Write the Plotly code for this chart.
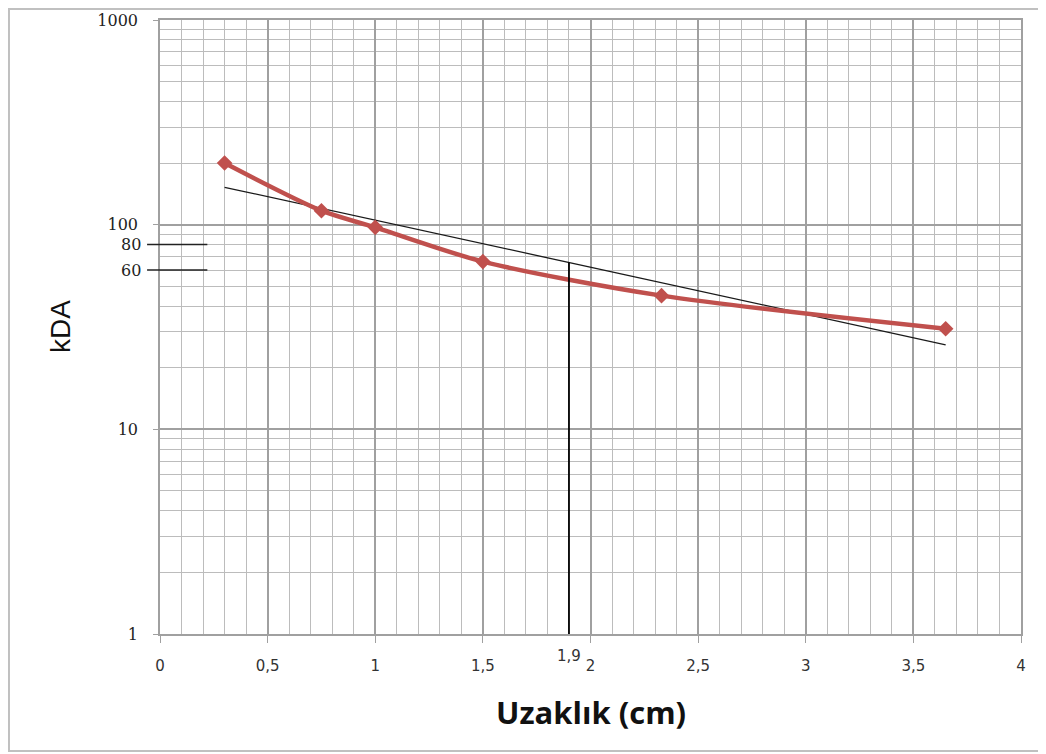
import numpy as np
import plotly.graph_objects as go

# Data
distance_cm = [0.3, 0.75, 1.0, 1.5, 2.33, 3.65]
kda = [200, 117, 97, 66, 45, 31]
x_tick_vals = [0, 0.5, 1, 1.5, 2, 2.5, 3, 3.5, 4]
x_tick_text = ["0", "0,5", "1", "1,5", "2", "2,5", "3", "3,5", "4"]
y_tick_vals = [1, 10, 100, 1000]
y_tick_text = ["1", "10", "100", "1000"]
marker_levels = [80, 60]
marker_labels = ["80", "60"]
read_x = 1.9
read_label = "1,9"

# Exponential trendline (Excel style) fitted on the data
coef = np.polyfit(distance_cm, np.log10(kda), 1)
trend_x = [min(distance_cm), max(distance_cm)]
trend_y = [10 ** np.polyval(coef, v) for v in trend_x]
read_y = 10 ** np.polyval(coef, read_x)

fig = go.Figure()
fig.add_trace(go.Scatter(x=trend_x, y=trend_y, mode="lines",
                         line=dict(color="#1a1a1a", width=1.3), showlegend=False))
fig.add_trace(go.Scatter(x=distance_cm, y=kda, mode="lines+markers",
                         line=dict(color="#c0504d", width=4.5, shape="spline", smoothing=0.8),
                         marker=dict(symbol="diamond", size=12, color="#c0504d"),
                         showlegend=False))
fig.add_trace(go.Scatter(x=[read_x, read_x], y=[1, read_y], mode="lines",
                         line=dict(color="black", width=1.8), showlegend=False))

minor_y = [m * 10 ** d for d in range(0, 3) for m in range(2, 10)]

fig.update_xaxes(range=[0, 4], tickvals=x_tick_vals, ticktext=x_tick_text,
                 showgrid=True, gridcolor="#a0a0a0", gridwidth=1.5,
                 minor=dict(dtick=0.1, tick0=0, showgrid=True, gridcolor="#bcbcbc", gridwidth=1.3),
                 ticks="outside", ticklen=7, tickcolor="#a0a0a0",
                 showline=True, linecolor="#a0a0a0", linewidth=1.5, mirror=True,
                 zeroline=False, automargin=False,
                 tickfont=dict(family="DejaVu Sans", size=15, color="#333333"),
                 ticklabelstandoff=10)
fig.update_yaxes(type="log", range=[0, 3], tickvals=y_tick_vals, ticktext=y_tick_text,
                 showgrid=True, gridcolor="#a0a0a0", gridwidth=1.5,
                 minor=dict(tickvals=minor_y, showgrid=True, gridcolor="#bcbcbc", gridwidth=1.3),
                 ticks="outside", ticklen=5, tickcolor="#a0a0a0",
                 showline=True, linecolor="#a0a0a0", linewidth=1.5, mirror=True,
                 zeroline=False, automargin=False,
                 tickfont=dict(family="DejaVu Serif", size=16, color="#222222"),
                 ticklabelstandoff=12)

shapes = []
for lv in marker_levels:
    shapes.append(dict(type="line", xref="x domain", yref="y", x0=-0.015, x1=0.055,
                       y0=lv, y1=lv, line=dict(color="#222222", width=1.6)))
shapes.append(dict(type="rect", xref="paper", yref="paper", x0=-0.1754, x1=1.06,
                   y0=-0.1906, y1=1.0179, line=dict(color="#c0c0c0", width=2), layer="below"))

annotations = [
    dict(x=read_x, y=0, xref="x", yref="paper", text=read_label, showarrow=False,
         yanchor="middle", yshift=-22, font=dict(family="DejaVu Sans", size=15, color="#333333")),
    dict(x=0.5, y=0, xref="paper", yref="paper", text="<b>Uzaklık (cm)</b>", showarrow=False,
         yshift=-78, yanchor="middle", font=dict(family="Open Sans", size=31, color="#111111")),
    dict(x=0, y=0.5, xref="paper", yref="paper", text="kDA", showarrow=False, textangle=-90,
         xshift=-100, xanchor="center", font=dict(family="Liberation Sans", size=28, color="#111111")),
]
for lv, lab in zip(marker_levels, marker_labels):
    annotations.append(dict(x=0, y=np.log10(lv), xref="paper", yref="y", text=lab,
                            showarrow=False, xanchor="right", yanchor="middle", xshift=-17,
                            font=dict(family="DejaVu Serif", size=16, color="#222222")))

fig.update_layout(width=1046, height=754, margin=dict(l=152, r=33, t=12, b=128),
                  plot_bgcolor="white", paper_bgcolor="white",
                  shapes=shapes, annotations=annotations, showlegend=False)

fig.write_html("out.html")
